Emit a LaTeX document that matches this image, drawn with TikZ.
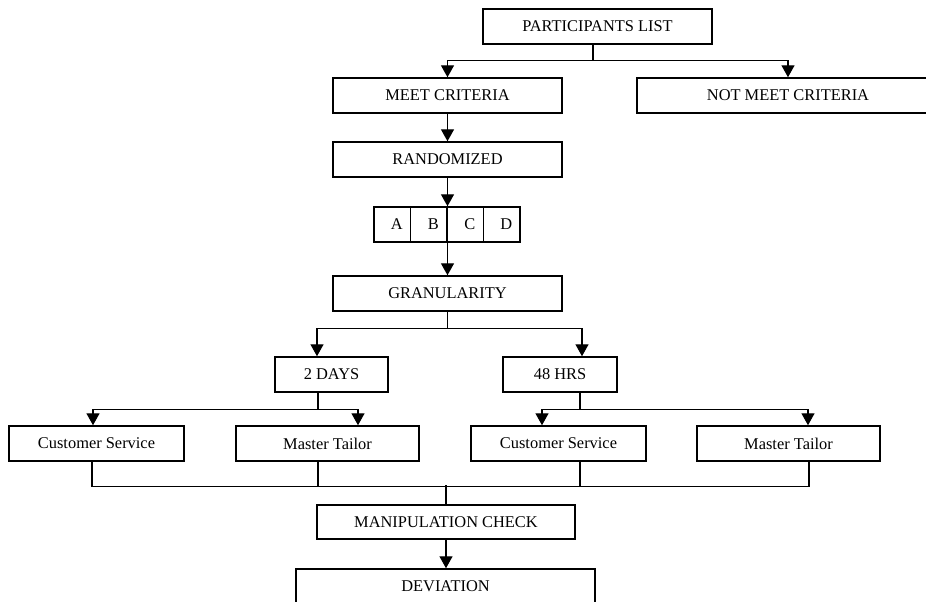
\documentclass[tikz,border=0pt]{standalone}
\usepackage{fontspec}
\setmainfont{Liberation Serif}
\usepackage{tikz}
\usetikzlibrary{positioning}
\usetikzlibrary{arrows.meta}
\tikzstyle{box} = [rectangle, draw=black, line width=1.1pt, minimum height=26.25pt, inner sep=0pt, text centered, font=\fontsize{12.3}{14}\selectfont]
\tikzstyle{cell} = [box, minimum width=27.375pt, execute at begin node=\hspace*{7pt}]
\tikzstyle{arrow} = [line width=1.1pt, -{Triangle[width=9.75pt,length=9pt]}]
\tikzstyle{line} = [line width=1.1pt]

\begin{document}
\begin{tikzpicture}[x=0.75pt, y=-0.75pt, node distance=27.375pt]
    \useasboundingbox (0,0) rectangle (926,602);
    \clip (0,0) rectangle (926,602);
    % Nodes
    \node (plist) [box, minimum width=171.75pt] at (597.5,26.5) {PARTICIPANTS LIST};
    \node (meet) [box, minimum width=171.75pt] at (447.5,95.5) {MEET CRITERIA};
    \node (notmeet) [box, minimum width=226.5pt] at (788,95.5) {NOT MEET CRITERIA};
    \node (rand) [box, minimum width=171.75pt] at (447.5,159.5) {RANDOMIZED};
    \node (cellA) [cell] at (392.25,224.5) {A};
    \node (cellB) [cell, right of=cellA] {B};
    \node (cellC) [cell, right of=cellB] {C};
    \node (cellD) [cell, right of=cellC] {D};
    \node (gran) [box, minimum width=171.75pt] at (447.5,293.5) {GRANULARITY};
    \node (days) [box, minimum width=84.75pt] at (331.5,374.5) {2 DAYS};
    \node (hrs) [box, minimum width=85.5pt] at (560,374.5) {48 HRS};
    \node (cs1) [box, minimum width=131.25pt] at (96.5,443.5) {Customer Service};
    \node (mt1) [box, minimum width=137.25pt] at (327.5,443.5) {Master Tailor};
    \node (cs2) [box, minimum width=131.25pt] at (558.5,443.5) {Customer Service};
    \node (mt2) [box, minimum width=137.25pt] at (788.5,443.5) {Master Tailor};
    \node (check) [box, minimum width=193.5pt, minimum height=25.5pt] at (446,522) {MANIPULATION CHECK};
    \node (dev) [box, minimum width=224.25pt] at (445.5,586.5) {DEVIATION};
    % Arrows
    \draw [line] ([xshift=-3.375pt]plist.south) -- ++(0,16) coordinate (split1);
    \draw [arrow] (split1) -| (meet.north);
    \draw [arrow] (split1) -| (notmeet.north);
    \draw [arrow] (meet) -- (rand);
    \draw [arrow] (rand.south) -- (rand.south |- cellB.north);
    \draw [arrow] (gran.north |- cellB.south) -- (gran.north);
    % Granularity split
    \draw [line] (gran.south) -- ++(0,17) coordinate (split2);
    \draw [arrow] (split2) -| ([xshift=-10.875pt]days.north);
    \draw [arrow] (split2) -| ([xshift=16.5pt]hrs.north);
    \draw [line] ([xshift=-10.125pt]days.south) -- ++(0,17) coordinate (split3);
    \draw [arrow] (split3) -| ([xshift=-2.625pt]cs1.north);
    \draw [arrow] (split3) -| ([xshift=22.875pt]mt1.north);
    \draw [line] ([xshift=15pt]hrs.south) -- ++(0,17) coordinate (split4);
    \draw [arrow] (split4) -| ([xshift=-12.375pt]cs2.north);
    \draw [arrow] (split4) -| ([xshift=14.625pt]mt2.north);
    % Join back to the check
    \draw [line] ([xshift=-3.375pt]cs1.south) -- ++(0,25) -| ([xshift=15.375pt]mt2.south);
    \draw [line] ([xshift=-7.125pt]mt1.south) -- ++(0,25);
    \draw [line] ([xshift=16.125pt]cs2.south) -- ++(0,25);
    \draw [line] (check.north) -- ++(0,-19);
    \draw [arrow] (check.south) -- (check.south |- dev.north);
\end{tikzpicture}
\end{document}
